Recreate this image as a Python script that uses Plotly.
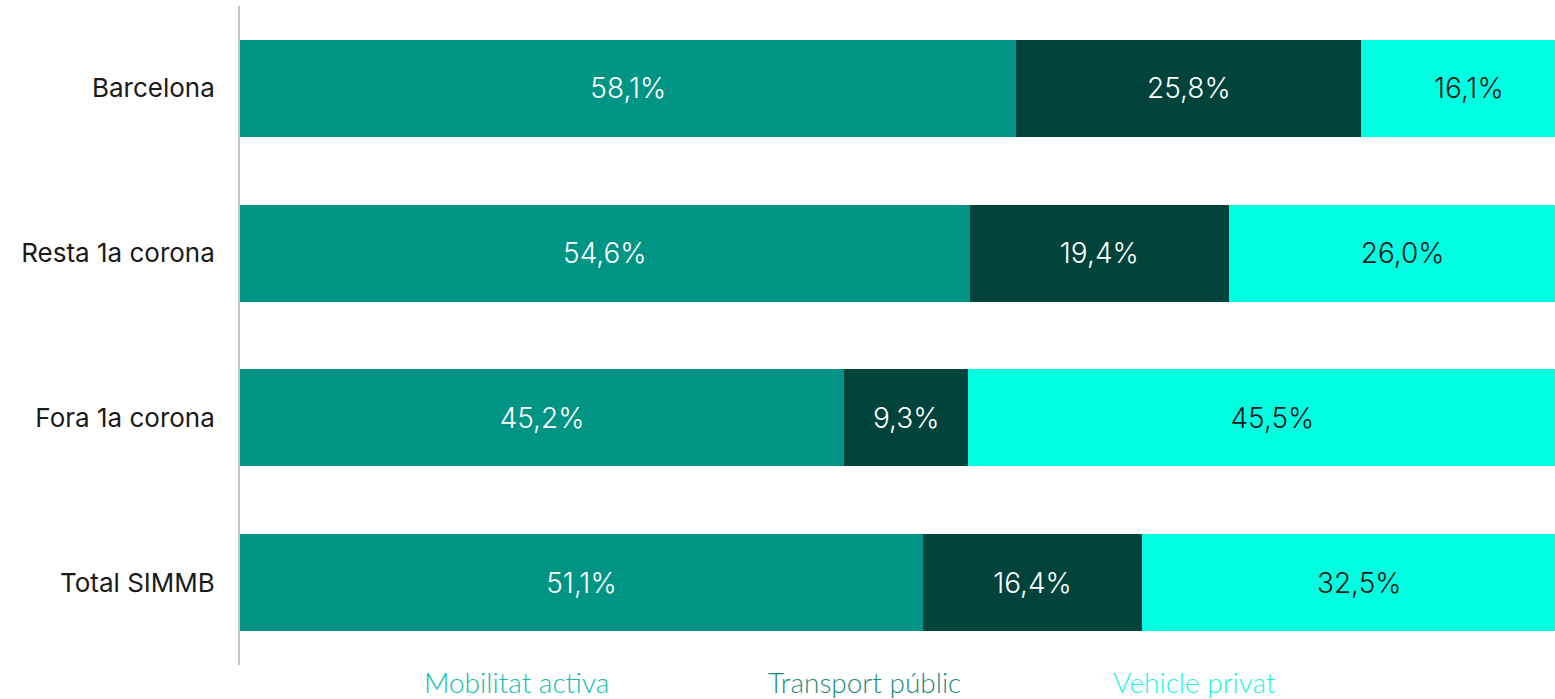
import plotly.graph_objects as go

categories = ["Barcelona", "Resta 1a corona", "Fora 1a corona", "Total SIMMB"]
series_names = ["Mobilitat activa", "Transport públic", "Vehicle privat"]
mobilitat_activa = [58.1, 54.6, 45.2, 51.1]
transport_public = [25.8, 19.4, 9.3, 16.4]
vehicle_privat = [16.1, 26.0, 45.5, 32.5]

colors = ["#009485", "#00433B", "#00FFE1"]
text_colors = ["white", "white", "#1a1a1a"]
legend_text_colors = ["#10C0A8", "#1E8C7E", "#19F5DE"]

def fmt(v):
    return f"{v:.1f}".replace(".", ",") + "%"

fig = go.Figure()
for name, vals, col, tcol in zip(series_names, [mobilitat_activa, transport_public, vehicle_privat], colors, text_colors):
    fig.add_trace(go.Bar(
        y=categories, x=vals, orientation="h", name=name,
        marker=dict(color=col, line=dict(width=0)),
        text=[fmt(v) for v in vals], textposition="inside", insidetextanchor="middle",
        textfont=dict(color=tcol, size=28, family="Inter", weight=300),
        showlegend=False, hoverinfo="skip",
    ))

legend_x = [0.2106, 0.475, 0.7255]
for name, xx, col in zip(series_names, legend_x, legend_text_colors):
    fig.add_annotation(text=name, x=xx, y=-0.026, xref="paper", yref="paper",
                       xanchor="center", yanchor="middle", showarrow=False,
                       font=dict(color=col, size=28, family="Lato", weight=300))

fig.update_layout(
    barmode="stack", bargap=0.41,
    width=1555, height=699,
    margin=dict(l=240, r=0, t=6, b=34),
    plot_bgcolor="white", paper_bgcolor="white",
    xaxis=dict(range=[0, 98.4], visible=False, fixedrange=True),
    yaxis=dict(autorange="reversed", showline=True, linecolor="#c4c4c4", linewidth=2,
               ticks="", ticklabelstandoff=18, showgrid=False, fixedrange=True,
               tickfont=dict(size=26, family="Inter", color="#1a1a1a")),
    uniformtext=dict(minsize=10, mode="show"),
)
fig.write_html("out.html", config={"displayModeBar": False},
               post_script="document.body.style.margin='0';document.body.style.overflow='hidden';")
